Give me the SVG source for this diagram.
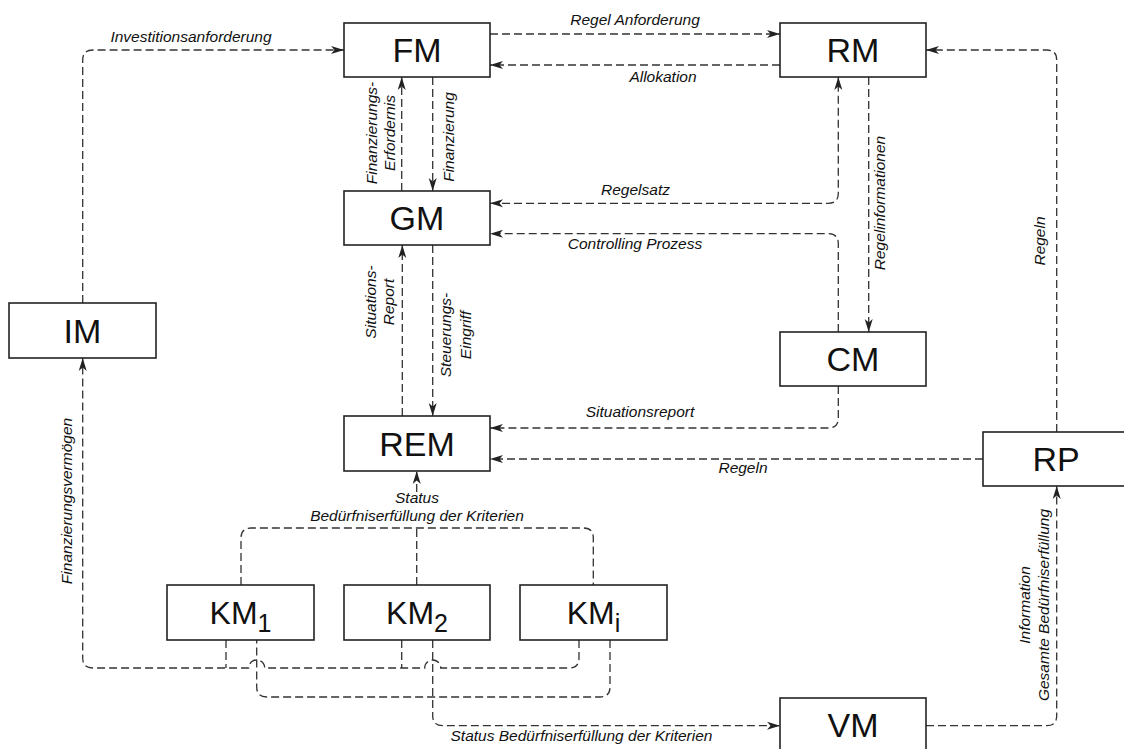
<svg xmlns="http://www.w3.org/2000/svg" width="1124" height="749" viewBox="0 0 1124 749">
  <style>
    .box { fill: #fff; stroke: #222; stroke-width: 1.6; }
    .name { font-family: "Liberation Sans", Arial, sans-serif; font-size: 34px; fill: #111; text-anchor: middle; }
    .km { font-family: "Liberation Sans", Arial, sans-serif; font-size: 32px; fill: #111; text-anchor: middle; }
    .sub { font-size: 25px; }
    .lbl { font-family: "Liberation Sans", Arial, sans-serif; font-size: 15.5px; font-style: italic; fill: #111; text-anchor: middle; }
    .vlbl { font-family: "Liberation Sans", Arial, sans-serif; font-size: 15.5px; font-style: italic; fill: #111; text-anchor: middle; dominant-baseline: central; }
    .flow { fill: none; stroke: #333; stroke-width: 1.3; stroke-dasharray: 8 4; }
    .arr { marker-end: url(#head); }
    .both { marker-start: url(#head); marker-end: url(#head); }
  </style>
  <defs>
    <marker id="head" viewBox="0 0 13 10" refX="13" refY="5" markerWidth="13" markerHeight="10" markerUnits="userSpaceOnUse" orient="auto-start-reverse">
      <path d="M0,1 L13,5 L0,9 L3.5,5 Z" fill="#222"/>
    </marker>
  </defs>

  <rect width="1124" height="749" fill="#fff"/>

  <!-- connectors -->
  <g id="connectors">
    <path class="flow arr" d="M82.7,303 V60 Q82.7,50 92.7,50 H344"/>
    <path class="flow arr" d="M490,34 H780"/>
    <path class="flow arr" d="M780,65 H490"/>
    <path class="flow arr" d="M401.7,191 V77"/>
    <path class="flow arr" d="M432.7,77 V191"/>
    <path class="flow both" d="M490,203.3 H828 Q838.3,203.3 838.3,193.3 V77"/>
    <path class="flow arr" d="M838.3,332 V243.7 Q838.3,233.7 828.3,233.7 H490"/>
    <path class="flow arr" d="M868.7,77 V332"/>
    <path class="flow arr" d="M1056.7,432 V60 Q1056.7,50 1046.7,50 H926"/>
    <path class="flow arr" d="M402.3,416 V245"/>
    <path class="flow arr" d="M432.7,245 V416"/>
    <path class="flow arr" d="M838.3,386 V418 Q838.3,428 828.3,428 H490"/>
    <path class="flow arr" d="M983,459 H490"/>
    <!-- status bus above the KM boxes -->
    <path class="flow" d="M241,585 V538 Q241,528 251,528 H583.3 Q593.3,528 593.3,538 V585"/>
    <path class="flow" d="M416.7,585 V528"/>
    <path class="flow arr" d="M416.7,492 V471"/>
    <!-- financing bus below the KM boxes, hopping over the crossing lines -->
    <path class="flow arr" d="M579,640 V658 Q579,668 569,668 H440.7 A8,8 0 0 0 424.7,668 H264.7 A8,8 0 0 0 248.7,668 H92.7 Q82.7,668 82.7,658 V358"/>
    <path class="flow" d="M226,640 V668"/>
    <path class="flow" d="M401.7,640 V668"/>
    <path class="flow" d="M610,640 V687 Q610,697 600,697 H266.7 Q256.7,697 256.7,687 V640"/>
    <path class="flow arr" d="M432.7,640 V715.7 Q432.7,725.7 442.7,725.7 H780"/>
    <path class="flow arr" d="M926,725.7 H1046.7 Q1056.7,725.7 1056.7,715.7 V486"/>
  </g>

  <!-- connector labels -->
  <g id="labels">
    <text class="lbl" x="191" y="42">Investitionsanforderung</text>
    <text class="lbl" x="635" y="25">Regel Anforderung</text>
    <text class="lbl" x="663" y="82">Allokation</text>
    <text class="lbl" x="635.5" y="195">Regelsatz</text>
    <text class="lbl" x="635" y="249">Controlling Prozess</text>
    <text class="lbl" x="640" y="417">Situationsreport</text>
    <text class="lbl" x="743" y="473">Regeln</text>
    <text class="lbl" x="417" y="503">Status</text>
    <text class="lbl" x="417" y="521">Bedürfniserfüllung der Kriterien</text>
    <text class="lbl" x="581.5" y="741">Status Bedürfniserfüllung der Kriterien</text>
    <text class="vlbl" x="371.4" y="133" transform="rotate(-90 371.4 133)">Finanzierungs-</text>
    <text class="vlbl" x="389" y="133" transform="rotate(-90 389 133)">Erfordernis</text>
    <text class="vlbl" x="448" y="137" transform="rotate(-90 448 137)">Finanzierung</text>
    <text class="vlbl" x="370" y="302" transform="rotate(-90 370 302)">Situations-</text>
    <text class="vlbl" x="388" y="302" transform="rotate(-90 388 302)">Report</text>
    <text class="vlbl" x="445.7" y="335" transform="rotate(-90 445.7 335)">Steuerungs-</text>
    <text class="vlbl" x="465.7" y="335" transform="rotate(-90 465.7 335)">Eingriff</text>
    <text class="vlbl" x="879" y="203" transform="rotate(-90 879 203)">Regelinformationen</text>
    <text class="vlbl" x="1039" y="241" transform="rotate(-90 1039 241)">Regeln</text>
    <text class="vlbl" x="66.7" y="501" transform="rotate(-90 66.7 501)">Finanzierungsvermögen</text>
    <text class="vlbl" x="1024" y="605" transform="rotate(-90 1024 605)">Information</text>
    <text class="vlbl" x="1043" y="605" transform="rotate(-90 1043 605)">Gesamte Bedürfniserfüllung</text>
  </g>

  <!-- nodes -->
  <g id="FM"><rect class="box" x="344" y="23" width="146" height="54"/><text class="name" x="417" y="62">FM</text></g>
  <g id="RM"><rect class="box" x="780" y="23" width="146" height="54"/><text class="name" x="853" y="62">RM</text></g>
  <g id="GM"><rect class="box" x="344" y="191" width="146" height="54"/><text class="name" x="417" y="230">GM</text></g>
  <g id="CM"><rect class="box" x="780" y="332" width="146" height="54"/><text class="name" x="853" y="371">CM</text></g>
  <g id="REM"><rect class="box" x="344" y="416" width="146" height="55"/><text class="name" x="417" y="455.5">REM</text></g>
  <g id="IM"><rect class="box" x="9" y="303" width="147" height="55"/><text class="name" x="82.5" y="342.5">IM</text></g>
  <g id="RP"><rect class="box" x="983" y="432" width="146" height="54"/><text class="name" x="1056" y="471">RP</text></g>
  <g id="VM"><rect class="box" x="780" y="698" width="146" height="54"/><text class="name" x="853" y="737">VM</text></g>
  <g id="KM1"><rect class="box" x="167" y="585" width="147" height="55"/><text class="km" x="240.5" y="624">KM<tspan class="sub" dy="8">1</tspan></text></g>
  <g id="KM2"><rect class="box" x="344" y="585" width="146" height="55"/><text class="km" x="417" y="624">KM<tspan class="sub" dy="8">2</tspan></text></g>
  <g id="KMi"><rect class="box" x="520" y="585" width="147" height="55"/><text class="km" x="593.5" y="624">KM<tspan class="sub" dy="8">i</tspan></text></g>
</svg>
